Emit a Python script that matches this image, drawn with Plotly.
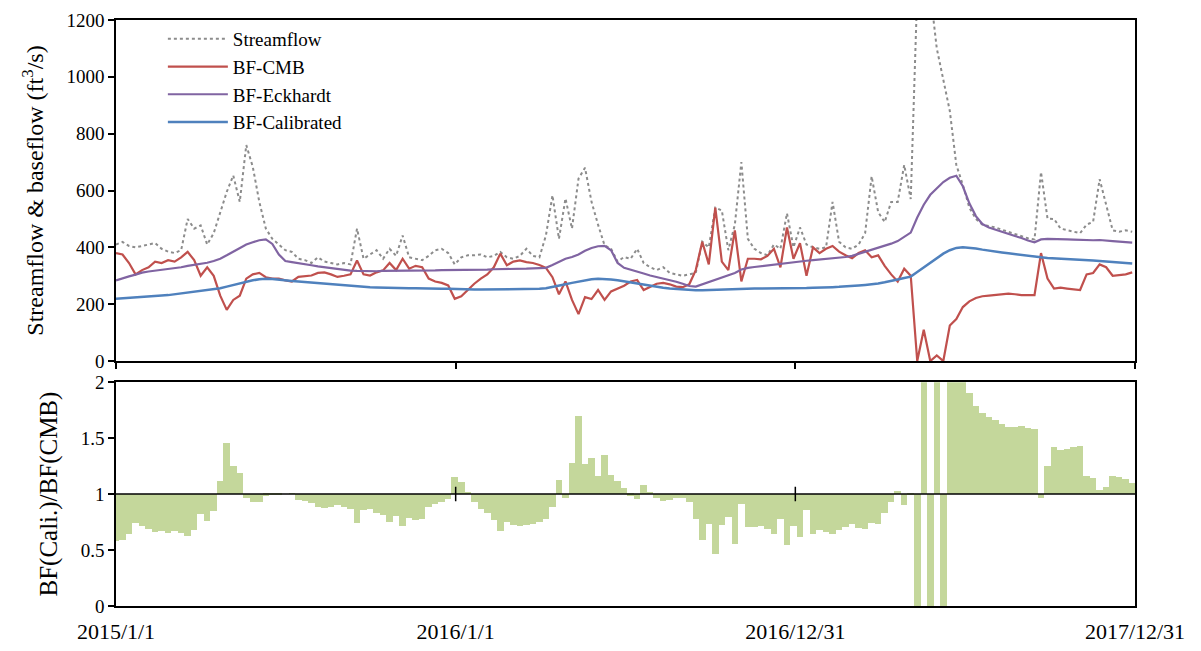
import plotly.graph_objects as go
import pandas as pd
import numpy as np

# weekly sampling dates
dates = pd.date_range("2015-01-01", periods=157, freq="7D")

streamflow = [
    410, 419, 405, 400, 405, 410, 415, 395, 385, 380,
    390, 500, 466, 477, 410, 450, 524, 595, 653, 560,
    760, 683, 560, 466, 430, 410, 390, 384, 360, 355,
    345, 365, 350, 345, 340, 345, 340, 466, 360, 375,
    390, 360, 395, 370, 442, 365, 360, 355, 370, 390,
    395, 380, 340, 365, 372, 372, 375, 365, 370, 384,
    365, 360, 370, 395, 370, 365, 442, 583, 430, 572,
    466, 642, 680, 560, 480, 407, 395, 350, 366, 360,
    395, 345, 330, 320, 330, 310, 305, 300, 305, 310,
    420, 400, 540, 530, 390, 480, 700, 430, 395, 380,
    372, 410, 395, 520, 400, 470, 410, 400, 395, 400,
    560, 420, 400, 395, 410, 450, 650, 524, 489, 560,
    560, 690, 570, 1300, 1250, 1300, 1100, 990, 880, 690,
    620, 540, 500, 480, 475, 470, 462, 455, 448, 440,
    432, 428, 665, 501, 500, 466, 460, 455, 450, 480,
    490, 640, 550, 460, 455, 460, 455,
]

bf_cmb = [
    380, 375, 345, 305, 320, 330, 350, 345, 355, 350,
    365, 384, 355, 300, 330, 300, 230, 180, 215, 230,
    290, 305, 310, 295, 290, 290, 284, 280, 296, 298,
    301, 310, 312, 305, 296, 300, 305, 354, 305, 301,
    312, 319, 345, 320, 360, 325, 335, 330, 290, 280,
    275, 266, 219, 228, 250, 272, 290, 305, 330, 378,
    337, 350, 354, 348, 345, 338, 328, 295, 235, 280,
    215, 165, 225, 218, 250, 215, 245, 255, 265, 280,
    285, 250, 262, 272, 275, 270, 262, 260, 270, 320,
    420, 340, 540, 350, 320, 460, 280, 360, 360, 358,
    370, 395, 330, 470, 360, 415, 300, 400, 380, 395,
    405, 385, 372, 362, 380, 390, 365, 372, 335, 305,
    280, 325, 300, 0, 110, 0, 20, 0, 125, 148,
    190, 210, 222, 228, 230, 232, 235, 237, 235, 232,
    232, 232, 380, 290, 255, 258, 255, 252, 250, 305,
    310, 340, 330, 300, 302, 305, 312,
]

bf_eckhardt = [
    284, 292, 298, 304, 311, 315, 318, 320, 322, 325,
    330, 335, 338, 342, 346, 352, 360, 372, 385, 398,
    410, 418, 425, 428, 412, 375, 352, 348, 345, 341,
    337, 333, 330, 326, 323, 320, 318, 317, 316, 316,
    316, 317, 317, 318, 318, 318, 318, 319, 319, 319,
    320, 320, 320, 320, 321, 321, 322, 322, 323, 323,
    324, 324, 325, 325, 326, 326, 328, 338, 350, 360,
    366, 375, 388, 398, 404, 405, 390, 345, 328, 322,
    315, 308, 301, 296, 290, 284, 279, 272, 264, 262,
    270, 278, 285, 292, 300, 310, 322, 328, 331, 334,
    337, 340, 343, 345, 348, 350, 353, 355, 357, 360,
    362, 364, 366, 370, 377, 386, 392, 398, 405, 413,
    422, 436, 452, 505, 550, 585, 608, 630, 645, 652,
    615, 555, 510, 482, 470, 462, 454, 447, 440, 433,
    424, 418, 428, 430, 430, 430, 428, 427, 426, 425,
    425, 426, 425, 422, 420, 418, 417,
]

bf_calibrated = [
    219, 221, 223, 225, 227, 228, 230, 231, 232, 235,
    237, 239, 242, 245, 249, 253, 256, 262, 268, 274,
    279, 284, 288, 290, 289, 286, 284, 282, 280, 278,
    277, 275, 272, 270, 268, 266, 264, 262, 261, 260,
    259, 258, 258, 257, 257, 256, 256, 255, 255, 254,
    254, 254, 253, 253, 253, 252, 252, 252, 252, 252,
    252, 252, 252, 252, 253, 254, 256, 260, 265, 270,
    275, 280, 285, 288, 290, 289, 287, 284, 280, 276,
    272, 269, 265, 261, 258, 255, 253, 251, 250, 249,
    249, 250, 250, 252, 253, 254, 255, 255, 255, 255,
    255, 255, 256, 256, 256, 257, 257, 258, 258, 259,
    260, 261, 262, 264, 266, 268, 270, 273, 277, 283,
    287, 292, 297, 313, 330, 346, 362, 378, 390, 398,
    400, 399, 396, 392, 388, 385, 382, 379, 376, 373,
    369, 366, 365, 363, 362, 360, 358, 357, 356, 355,
    354, 352, 351, 349, 347, 345, 343,
]

tick_dates = ["2015-01-01", "2016-01-01", "2016-12-31", "2017-12-31"]
tick_labels = ["2015/1/1", "2016/1/1", "2016/12/31", "2017/12/31"]

# ratio BF(Cali.)/BF(CMB); division by zero shown as 0
cal = np.array(bf_calibrated, dtype=float)
cmb = np.array(bf_cmb, dtype=float)
ratio = np.where(cmb > 0, cal / np.where(cmb > 0, cmb, 1), 0.0)
ratio_plot = np.clip(ratio, 0, 2.2)

FONT = "Liberation Serif, Times New Roman, serif"

fig = go.Figure()
fig.add_trace(go.Scatter(x=dates, y=streamflow, name="Streamflow", mode="lines",
                         line=dict(color="#8c8c8c", width=2, dash="dot")))
fig.add_trace(go.Scatter(x=dates, y=bf_cmb, name="BF-CMB", mode="lines",
                         line=dict(color="#c0504d", width=2.2)))
fig.add_trace(go.Scatter(x=dates, y=bf_eckhardt, name="BF-Eckhardt", mode="lines",
                         line=dict(color="#8064a2", width=2.2)))
fig.add_trace(go.Scatter(x=dates, y=bf_calibrated, name="BF-Calibrated", mode="lines",
                         line=dict(color="#4f81bd", width=2.5)))

fig.add_trace(go.Bar(x=dates, y=ratio_plot - 1, base=1, width=7 * 86400000,
                     marker=dict(color="#c4d79b", line=dict(width=0)),
                     xaxis="x2", yaxis="y2", showlegend=False))

axis_common = dict(showline=True, linecolor="black", linewidth=1.5, mirror=True,
                   showgrid=False, zeroline=False, automargin=False,
                   ticklabeloverflow="allow")

fig.update_layout(
    width=1185, height=635,
    margin=dict(l=108, r=58, t=12, b=37),
    paper_bgcolor="white", plot_bgcolor="white",
    font=dict(family=FONT, size=22, color="black"),
    bargap=0,
    showlegend=True,
    legend=dict(x=0.046, y=1.0, xanchor="left", yanchor="top",
                bgcolor="rgba(0,0,0,0)", font=dict(size=19, family=FONT),
                tracegroupgap=0, itemwidth=60),
    xaxis=dict(axis_common, range=["2015-01-01", "2017-12-31"], anchor="y",
               tickvals=tick_dates, ticktext=tick_labels, showticklabels=False,
               ticks="outside", ticklen=6, tickwidth=1.5, tickcolor="black"),
    yaxis=dict(axis_common, domain=[0.418, 1.0], range=[0, 1200], dtick=200,
               ticks="outside", ticklen=6, tickwidth=1.5, tickcolor="black",
               tickfont=dict(size=19),
               title=dict(text="Streamflow & baseflow (ft<sup>3</sup>/s)", standoff=16,
                          font=dict(size=24))),
    xaxis2=dict(axis_common, range=["2015-01-01", "2017-12-31"], anchor="y2",
                matches="x", tickvals=tick_dates, ticktext=tick_labels,
                ticks="", showticklabels=True, tickfont=dict(size=22),
                ticklabelstandoff=5),
    yaxis2=dict(axis_common, domain=[0.0, 0.382], range=[0, 2],
                tickvals=[0, 0.5, 1, 1.5, 2], ticktext=["0", "0.5", "1", "1.5", "2"],
                ticks="outside", ticklen=6, tickwidth=1.5, tickcolor="black",
                tickfont=dict(size=19),
                title=dict(text="BF(Cali.)/BF(CMB)", standoff=16, font=dict(size=25))),
)

shapes = [dict(type="line", xref="x2 domain", yref="y2", x0=0, x1=1, y0=1, y1=1,
               line=dict(color="black", width=1.5), layer="above")]
for d in tick_dates[1:-1]:
    shapes.append(dict(type="line", xref="x2", yref="y2", x0=d, x1=d, y0=0.935, y1=1.065,
                       line=dict(color="black", width=1.5), layer="above"))
fig.update_layout(shapes=shapes)

fig.write_html("out.html")
